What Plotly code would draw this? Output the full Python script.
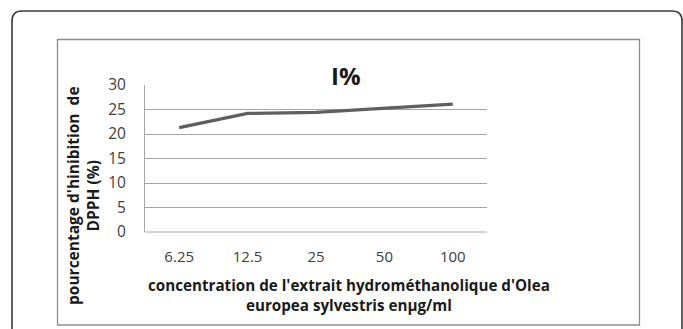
import plotly.graph_objects as go

categories = ["6.25", "12.5", "25", "50", "100"]
inhibition = [21.3, 24.2, 24.4, 25.3, 26.1]
y_ticks = [0, 5, 10, 15, 20, 25, 30]

W, H = 683, 329
L, R, T, B = 145, 487, 85, 232  # plot area in px


def px(x):
    return (x - L) / (R - L)


def py(y):
    return (B - y) / (B - T)


fig = go.Figure()
fig.add_trace(go.Scatter(
    x=categories, y=inhibition, mode="lines",
    line=dict(color="#5f5f5f", width=3.2),
    hoverinfo="skip", showlegend=False,
))

font_family = "Open Sans, Liberation Sans, sans-serif"

fig.update_layout(
    width=W, height=H,
    margin=dict(l=L, r=W - R, t=T, b=H - B),
    paper_bgcolor="white", plot_bgcolor="white",
    xaxis=dict(
        type="category", range=[-0.5, 4.5], showgrid=False, showline=False,
        zeroline=False, ticks="",
        tickfont=dict(family=font_family, size=15, color="#404040"),
        ticklabelstandoff=14,
    ),
    yaxis=dict(
        range=[0, 30], tickvals=y_ticks, showgrid=True, gridcolor="#a6a6a6",
        gridwidth=1, showline=True, linecolor="#a6a6a6", zeroline=False,
        ticks="", tickfont=dict(family=font_family, size=15.5, color="#404040"),
        ticklabelstandoff=15,
    ),
)

# x axis line at bottom
fig.add_shape(type="line", xref="paper", yref="paper", x0=0, x1=1, y0=0, y1=0,
              line=dict(color="#a6a6a6", width=1))

# inner chart frame
fig.add_shape(type="rect", xref="paper", yref="paper",
              x0=px(57.5), x1=px(639.5), y0=py(325), y1=py(39.5),
              line=dict(color="#8c8c8c", width=1.3), layer="below")

# outer rounded frame (open at bottom)
r = 10
x0o, x1o, y0o = 12, 682, 11
path = (f"M {px(x0o)} {py(340)} L {px(x0o)} {py(y0o + r)} "
        f"Q {px(x0o)} {py(y0o)} {px(x0o + r)} {py(y0o)} "
        f"L {px(x1o - r)} {py(y0o)} "
        f"Q {px(x1o)} {py(y0o)} {px(x1o)} {py(y0o + r)} "
        f"L {px(x1o)} {py(340)}")
fig.add_shape(type="path", xref="paper", yref="paper", path=path,
              line=dict(color="#3a3a3a", width=1.6))

# title
fig.add_annotation(text="<b>I%</b>", xref="paper", yref="paper",
                   x=px(346), y=py(76), xanchor="center", yanchor="middle",
                   showarrow=False,
                   font=dict(family=font_family, size=24, color="#1a1a1a"))

# x axis title
fig.add_annotation(text="<b>concentration de l'extrait hydrométhanolique d'Olea<br>europea sylvestris enµg/ml</b>",
                   xref="paper", yref="paper", x=px(349), y=py(295),
                   xanchor="center", yanchor="middle", showarrow=False,
                   font=dict(family=font_family, size=15.2, color="#1a1a1a"),
                   align="center")

# y axis title
fig.add_annotation(text="<b>pourcentage d'hinibition  de<br>DPPH (%)</b>",
                   xref="paper", yref="paper", x=px(83), y=py(196),
                   xanchor="center", yanchor="middle", showarrow=False,
                   textangle=-90,
                   font=dict(family=font_family, size=15.5, color="#1a1a1a"),
                   align="center")

fig.write_html("out.html", config={"displayModeBar": False},
               post_script="document.body.style.margin='0';")
